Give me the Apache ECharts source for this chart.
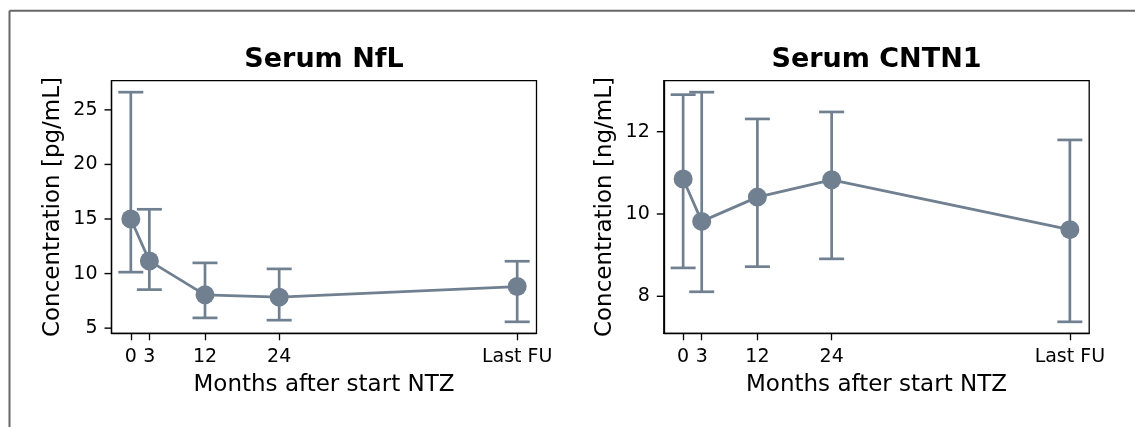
<!DOCTYPE html>
<html>
<head>
<meta charset="utf-8">
<script src="https://cdn.jsdelivr.net/npm/echarts@6/dist/echarts.min.js"></script>
<style>
html,body{margin:0;padding:0;background:#fff;}
#chart{width:1135px;height:427px;}
</style>
</head>
<body>
<div id="chart"></div>
<script>
// ---- data ----
const months = [0, 3, 12, 24, 62.5];
const monthLabels = ['0', '3', '12', '24', 'Last FU'];

const nflMean  = [15.0, 11.16, 8.05, 7.84, 8.81];
const nflLow   = [10.13, 8.53, 5.94, 5.73, 5.58];
const nflHigh  = [26.62, 15.89, 10.98, 10.43, 11.13];
const nflTicks = [5, 10, 15, 20, 25];

const cntnMean  = [10.85, 9.82, 10.41, 10.83, 9.62];
const cntnLow   = [8.69, 8.11, 8.72, 8.91, 7.38];
const cntnHigh  = [12.90, 12.96, 12.31, 12.48, 11.80];
const cntnTicks = [8, 10, 12];

const titles = ['Serum NfL', 'Serum CNTN1'];
const yNames = ['Concentration [pg/mL]', 'Concentration [ng/mL]'];
const xName = 'Months after start NTZ';

// ---- styling ----
const COLOR = '#708090';
const FONT = 'DejaVu Sans';

function range(lo, hi) {
  const mn = Math.min(...lo), mx = Math.max(...hi);
  const m = (mx - mn) * 0.05;
  return [mn - m, mx + m];
}
const xr = [months[0] - (months[4] - months[0]) * 0.05, months[4] + (months[4] - months[0]) * 0.05];

function xAxis(gi) {
  return {
    type: 'value', gridIndex: gi, min: xr[0], max: xr[1],
    splitLine: {show: false},
    axisLine: {show: true, onZero: false, lineStyle: {color: '#000', width: 1.3}},
    axisTick: {show: true, length: 7, inside: false, customValues: months, lineStyle: {color: '#000', width: 1.3}},
    axisLabel: {
      customValues: months, margin: 14, color: '#000', fontFamily: FONT, fontSize: 19,
      formatter: v => { const i = months.indexOf(v); return i >= 0 ? monthLabels[i] : ''; }
    },
    name: xName, nameLocation: 'middle', nameGap: 40,
    nameTextStyle: {color: '#000', fontFamily: FONT, fontSize: 23}
  };
}
function yAxis(gi, ticks, r) {
  return {
    type: 'value', gridIndex: gi, min: r[0], max: r[1],
    splitLine: {show: false},
    axisLine: {show: true, onZero: false, lineStyle: {color: '#000', width: 1.3}},
    axisTick: {show: false},
    axisLabel: {customValues: ticks, margin: 14, color: '#000', fontFamily: FONT, fontSize: 19},
    name: yNames[gi], nameLocation: 'middle', nameGap: 47, nameRotate: 90,
    nameTextStyle: {color: '#000', fontFamily: FONT, fontSize: 23}
  };
}
// y-axis tick marks drawn through the axis scale
function yTickSeries(gi, ticks) {
  return {
    type: 'custom', xAxisIndex: gi, yAxisIndex: gi, z: 5, silent: true, clip: false,
    data: ticks.map(v => [xr[0], v]),
    renderItem: function (params, api) {
      const p = api.coord([api.value(0), api.value(1)]);
      return {type: 'line', shape: {x1: p[0] - 7, y1: p[1], x2: p[0], y2: p[1]}, style: {stroke: '#000', lineWidth: 1.4}};
    }
  };
}
function errSeries(gi, lo, hi) {
  return {
    type: 'custom', xAxisIndex: gi, yAxisIndex: gi, z: 1,
    data: months.map((m, i) => [m, lo[i], hi[i]]),
    renderItem: function (params, api) {
      const a = api.coord([api.value(0), api.value(1)]);
      const b = api.coord([api.value(0), api.value(2)]);
      const w = 12.5;
      const st = {stroke: COLOR, lineWidth: 2.7};
      return {
        type: 'group',
        children: [
          {type: 'line', shape: {x1: a[0], y1: a[1], x2: b[0], y2: b[1]}, style: st},
          {type: 'line', shape: {x1: a[0] - w, y1: a[1], x2: a[0] + w, y2: a[1]}, style: st},
          {type: 'line', shape: {x1: b[0] - w, y1: b[1], x2: b[0] + w, y2: b[1]}, style: st}
        ]
      };
    }
  };
}
function lineSeries(gi, mean) {
  return {
    type: 'line', xAxisIndex: gi, yAxisIndex: gi, z: 3,
    data: months.map((m, i) => [m, mean[i]]),
    symbol: 'circle', symbolSize: 19, showSymbol: true,
    lineStyle: {color: COLOR, width: 2.8},
    itemStyle: {color: COLOR},
    animation: false
  };
}

const chart = echarts.init(document.getElementById('chart'), null, {renderer: 'canvas'});
chart.setOption({
  backgroundColor: '#fff',
  animation: false,
  grid: [
    {left: 111.5, right: 1135 - 536.5, top: 80.7, bottom: 427 - 333.3, show: true, borderColor: '#000', borderWidth: 1.3, backgroundColor: 'transparent'},
    {left: 663.8, right: 1135 - 1089.2, top: 80.7, bottom: 427 - 333.3, show: true, borderColor: '#000', borderWidth: 1.3, backgroundColor: 'transparent'}
  ],
  xAxis: [xAxis(0), xAxis(1)],
  yAxis: [yAxis(0, nflTicks, range(nflLow, nflHigh)), yAxis(1, cntnTicks, range(cntnLow, cntnHigh))],
  series: [
    errSeries(0, nflLow, nflHigh), lineSeries(0, nflMean), yTickSeries(0, nflTicks),
    errSeries(1, cntnLow, cntnHigh), lineSeries(1, cntnMean), yTickSeries(1, cntnTicks)
  ],
  graphic: [
    {type: 'line', shape: {x1: 9.5, y1: 10.7, x2: 1135, y2: 10.7}, style: {stroke: '#666', lineWidth: 2}},
    {type: 'line', shape: {x1: 9.5, y1: 10.7, x2: 9.5, y2: 427}, style: {stroke: '#666', lineWidth: 2}},
    {type: 'text', x: 324, y: 60, style: {text: titles[0], fill: '#000', font: 'bold 27px "DejaVu Sans"', textAlign: 'center', textVerticalAlign: 'middle'}},
    {type: 'text', x: 876.5, y: 60, style: {text: titles[1], fill: '#000', font: 'bold 27px "DejaVu Sans"', textAlign: 'center', textVerticalAlign: 'middle'}}
  ]
});
</script>
</body>
</html>
